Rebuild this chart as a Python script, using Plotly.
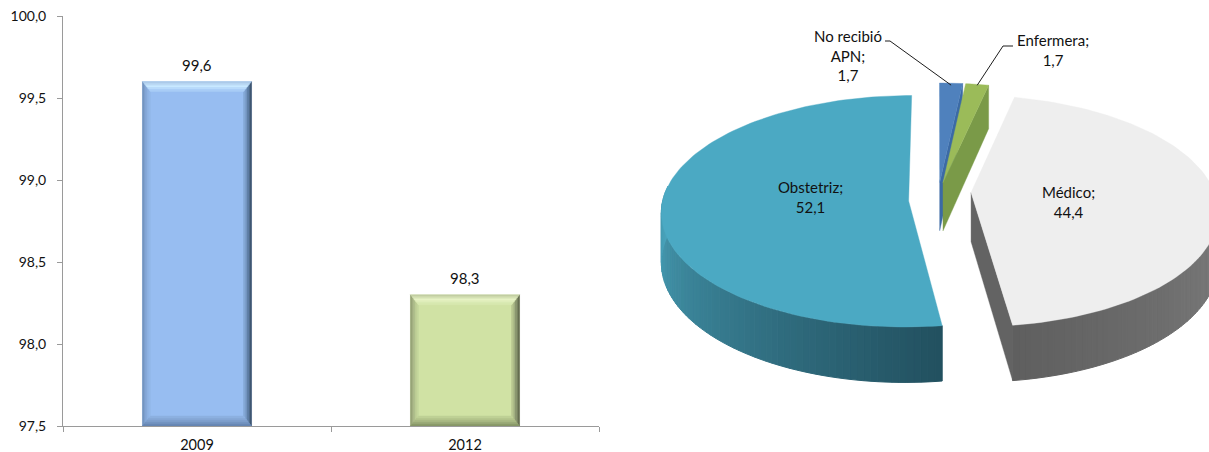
import math
import plotly.graph_objects as go

# ---- data ----
bar_categories = ["2009", "2012"]
bar_values = [99.6, 98.3]
pie_labels = ["No recibió<br>APN", "Enfermera", "Médico", "Obstetriz"]
pie_values = [1.7, 1.7, 44.4, 52.1]

# ---- style ----
W, H = 1209, 452
FONT = "Lato"
TXT = "#111111"
AXIS = "#9a9a9a"
PLOT_L, PLOT_R, PLOT_T, PLOT_B = 63, 599, 16, 426
BAR_W = 0.407
BAR_STYLE = [
    dict(base="#97BDF1", top=("#a6c3e4", "#c9e9ff", "#a0c6f4"), bottom=("#5f7fad", "#7c9dca", "#90b5e6"),
         left=("#6c8db8", "#86a9d8", "#95bbee"), right=("#34475e", "#5f7fa6", "#8fb3e2")),
    dict(base="#D0E2A4", top=("#b9c69a", "#e8f3c6", "#d4e6aa"), bottom=("#7f8e60", "#a6b781", "#c4d69a"),
         left=("#8d9b70", "#aebd8a", "#cbdda0"), right=("#565e46", "#8b9770", "#c2d398")),
]
BEVEL_PX = 8
PIE_FACE = ["#4F81BD", "#9BBB59", "#EEEEEE", "#4BA9C3"]
PIE_CUT = ["#3B6AA5", "#7A9A48", "#636363", "#3b8299"]
PIE_WALL = [("#3B6AA5", "#3B6AA5"), ("#7A9A48", "#7A9A48"), ("#828282", "#5f5f5f"), ("#22505f", "#4AA4BC")]
PIE_PULL = [0.13, 0.13, 0.135, 0.12]
PIE_APEX_DY = [0, 0, -5, 3]
CX, CY, RX, RY, DEPTH, PERSP = 938, 197, 245, 114, 49, 0.115


def lerp_hex(c1, c2, t):
    a = [int(c1[i:i + 2], 16) for i in (1, 3, 5)]
    b = [int(c2[i:i + 2], 16) for i in (1, 3, 5)]
    return "#%02x%02x%02x" % tuple(round(p + (q - p) * t) for p, q in zip(a, b))


def ramp(stops, t):
    if t < 0.5:
        return lerp_hex(stops[0], stops[1], t * 2)
    return lerp_hex(stops[1], stops[2], (t - 0.5) * 2)


def project(X, Y, Z=0.0):
    s = 1 / (1 + PERSP * Y)
    return CX + RX * X * s, CY - (RY * Y - DEPTH * Z) * s


fig = go.Figure()


def poly(xs, ys, color, xaxis, yaxis, seam=1.0):
    fig.add_trace(go.Scatter(x=list(xs) + [xs[0]], y=list(ys) + [ys[0]], mode="lines", fill="toself",
                             fillcolor=color, line=dict(color=color, width=seam), xaxis=xaxis, yaxis=yaxis,
                             hoverinfo="skip", showlegend=False))


# ---- bars ----
fig.add_trace(go.Bar(x=bar_categories, y=bar_values, width=BAR_W,
                     marker=dict(color=[s["base"] for s in BAR_STYLE], line=dict(width=0)),
                     hoverinfo="skip", showlegend=False))

y_min, y_max = 97.5, 100.0
ux = 1 / ((PLOT_R - PLOT_L) / 2)                     # category units per pixel
uy = (y_max - y_min) / (PLOT_B - PLOT_T)             # value units per pixel
STRIPS = 5
for i, v in enumerate(bar_values):
    st = BAR_STYLE[i]
    l, r = i - BAR_W / 2, i + BAR_W / 2
    t, b = v, y_min
    for k in range(STRIPS):
        f0, f1 = k / STRIPS, (k + 1) / STRIPS
        c = (k + 0.5) / STRIPS
        dx0, dx1 = f0 * BEVEL_PX * ux, f1 * BEVEL_PX * ux
        dy0, dy1 = f0 * (BEVEL_PX + 2) * uy, f1 * (BEVEL_PX + 2) * uy
        poly([l + dx0, l + dx1, l + dx1, l + dx0], [t - dy0, t - dy1, b + dy1, b + dy0], ramp(st["left"], c), "x3", "y", 0.5)
        poly([r - dx0, r - dx1, r - dx1, r - dx0], [t - dy0, t - dy1, b + dy1, b + dy0], ramp(st["right"], c), "x3", "y", 0.5)
        poly([l + dx0, r - dx0, r - dx1, l + dx1], [t - dy0, t - dy0, t - dy1, t - dy1], ramp(st["top"], c), "x3", "y", 0.5)
        poly([l + dx0, r - dx0, r - dx1, l + dx1], [b + dy0, b + dy0, b + dy1, b + dy1], ramp(st["bottom"], c), "x3", "y", 0.5)

# ---- pseudo-3D pie, all geometry derived from pie_values ----
total = sum(pie_values)
start = 0.0
slices = []
for i, v in enumerate(pie_values):
    sweep = v / total * 360
    slices.append((i, start, start + sweep))
    start += sweep


def world(i, theta, r=1.0):
    _, a0, a1 = slices[i]
    mid = math.radians((a0 + a1) / 2)
    th = math.radians(theta)
    return PIE_PULL[i] * math.sin(mid) + r * math.sin(th), PIE_PULL[i] * math.cos(mid) + r * math.cos(th)


def apex(i, Z=0.0):
    px, py = project(*world(i, 0.0, 0.0), Z)
    return px, py + PIE_APEX_DY[i]


for i, a0, a1 in slices:
    # outer wall, front half only
    w0, w1 = max(a0, 84), min(a1, 276)
    if w1 > w0:
        n = 70
        for k in range(n):
            t0 = w0 + (w1 - w0) * k / n
            t1 = w0 + (w1 - w0) * (k + 1) / n
            X0, Y0 = world(i, t0)
            X1, Y1 = world(i, t1)
            p = [project(X0, Y0), project(X1, Y1), project(X1, Y1, 1), project(X0, Y0, 1)]
            poly([q[0] for q in p], [q[1] for q in p],
                 lerp_hex(*PIE_WALL[i], (k + 0.5) / n), "x2", "y2")
    # cut wall at the clockwise end of the slice (faces the viewer when pointing downward)
    if math.cos(math.radians(a1 + 90)) < 0:
        Xb, Yb = world(i, a1, 1.0)
        p = [apex(i), project(Xb, Yb), project(Xb, Yb, 1), apex(i, 1)]
        poly([q[0] for q in p], [q[1] for q in p], PIE_CUT[i], "x2", "y2", 0.4)
    # top face
    pts = [apex(i)]
    n = max(8, int((a1 - a0) / 1.5))
    for k in range(n + 1):
        pts.append(project(*world(i, a0 + (a1 - a0) * k / n)))
    poly([q[0] for q in pts], [q[1] for q in pts], PIE_FACE[i], "x2", "y2", seam=0.4)

# leader lines from the label elbows to the slice rims
rim_blue = project(*world(0, (slices[0][1] + slices[0][2]) / 2))
rim_green = project(*world(1, (slices[1][1] + slices[1][2]) / 2))
for xs, ys in [([885, 890, rim_blue[0]], [41, 41, rim_blue[1] + 2]),
               ([1013, 1003, rim_green[0]], [46, 46, rim_green[1] + 1])]:
    fig.add_trace(go.Scatter(x=xs, y=ys, mode="lines", line=dict(color="#1c1c1c", width=1),
                             xaxis="x2", yaxis="y2", hoverinfo="skip", showlegend=False))

# ---- text ----
annotations = []
for idx, v in enumerate(bar_values):
    annotations.append(dict(x=idx, y=v, xref="x", yref="y", yshift=17, showarrow=False, font=dict(size=15),
                            text=f"{v:.1f}".replace(".", ",")))
label_pos = [(848, 55), (1053, 50), (1068, 202), (810, 197)]
for lab, v, (lx, ly) in zip(pie_labels, pie_values, label_pos):
    annotations.append(dict(x=lx, y=ly, xref="x2", yref="y2", showarrow=False, font=dict(size=15),
                            text=f"{lab};<br>{v:.1f}".replace(".", ",")))

fig.update_layout(
    template="none",
    width=W, height=H, margin=dict(l=0, r=0, t=0, b=0, pad=0), paper_bgcolor="white", plot_bgcolor="rgba(0,0,0,0)",
    separators=",.", font=dict(family=FONT, size=14, color=TXT), showlegend=False,
    annotations=annotations,
    xaxis=dict(type="category", domain=[PLOT_L / W, PLOT_R / W], range=[-0.5, 1.5], anchor="y", automargin=False,
               showgrid=False, zeroline=False, showline=True, linecolor=AXIS, linewidth=1,
               ticks="outside", tickson="boundaries", ticklen=5, tickcolor=AXIS, ticklabelstandoff=6,
               tickfont=dict(size=14.5)),
    yaxis=dict(domain=[1 - PLOT_B / H, 1 - PLOT_T / H], range=[y_min, y_max], dtick=0.5, tick0=97.5, automargin=False,
               tickformat=".1f", anchor="x", showgrid=False, zeroline=False, showline=True,
               linecolor=AXIS, linewidth=1, ticks="outside", ticklen=5, tickcolor=AXIS, ticklabelstandoff=8),
    xaxis3=dict(domain=[PLOT_L / W, PLOT_R / W], range=[-0.5, 1.5], overlaying="x", anchor="y", visible=False),
    xaxis2=dict(domain=[0, 1], range=[0, W], anchor="y2", visible=False, automargin=False),
    yaxis2=dict(domain=[0, 1], range=[H, 0], anchor="x2", visible=False, automargin=False),
)

fig.write_html("out.html", config=dict(displayModeBar=False),
               post_script="document.body.style.margin='0';document.documentElement.style.overflow='hidden';")
